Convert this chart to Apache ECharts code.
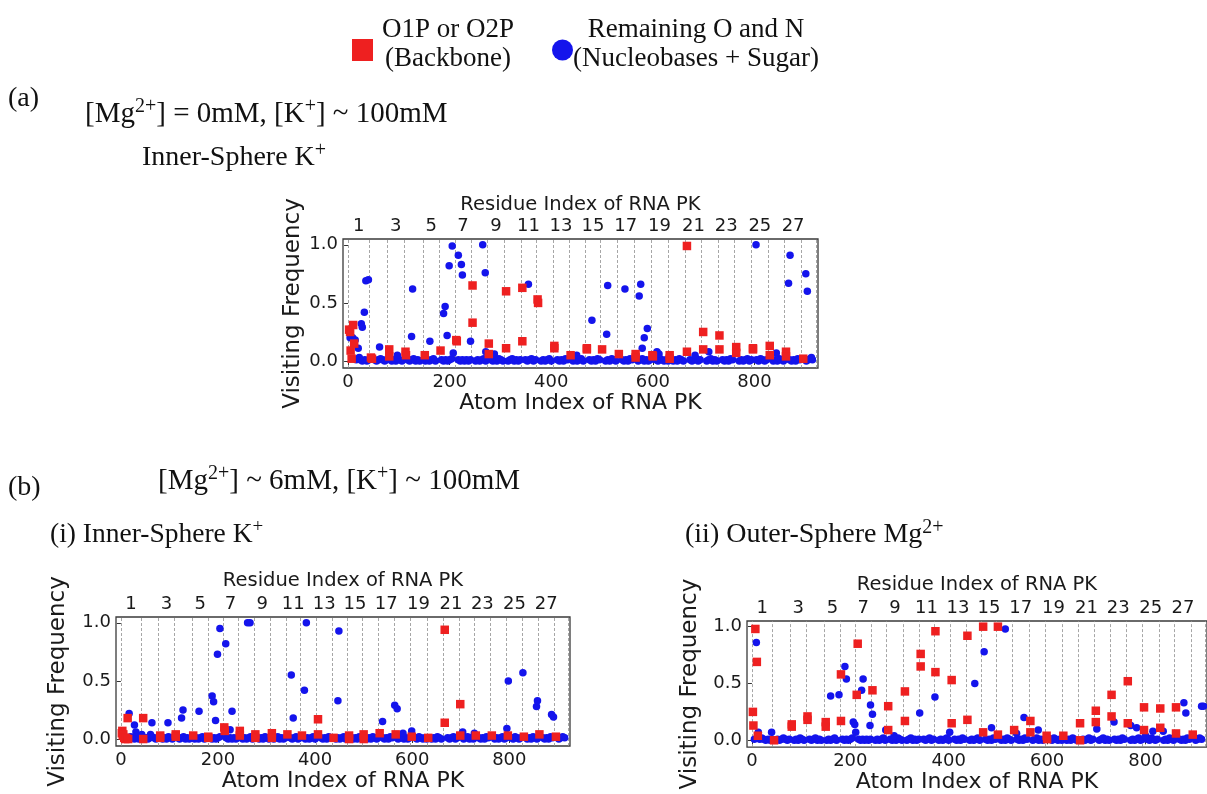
<!DOCTYPE html>
<html>
<head>
<meta charset="utf-8">
<title>Visiting frequency on RNA PK</title>
<script src="https://cdn.jsdelivr.net/npm/echarts@6/dist/echarts.min.js"></script>
<style>
  html, body { margin: 0; padding: 0; background: #fff; }
  #main { width: 1207px; height: 794px; }
</style>
</head>
<body>
<div id="main"></div>
<script>
// atom index where each residue starts (dashed lines), last residue ends at residueEnd
var residueStart = [0, 42, 78, 110, 148, 179, 210, 242, 274, 308, 340, 370, 403, 435,
  467, 497, 530, 563, 596, 630, 664, 696, 728, 761, 794, 827, 859, 893];
var residueEnd = 922;
var atomTicks = [0, 200, 400, 600, 800];
var freqTicks = [0, 0.5, 1.0];

// O/N atoms that are almost never visited (same in every panel)
var baseBlue = [
  [16, 0.01], [20, 0.02], [24, 0.01], [28, 0.0], [33, 0.01], [37, 0.0], [41, 0.01],
  [52, 0.01], [56, 0.0], [60, 0.01], [64, 0.02], [68, 0.01], [72, 0.0], [76, 0.01],
  [86, 0.0], [90, 0.01], [94, 0.0], [98, 0.02], [102, 0.01], [106, 0.0],
  [117, 0.01], [121, 0.0], [125, 0.01], [129, 0.02], [133, 0.0], [137, 0.01], [141, 0.0],
  [152, 0.0], [156, 0.01], [160, 0.0], [164, 0.01], [168, 0.02], [172, 0.0],
  [184, 0.01], [188, 0.0], [192, 0.01], [196, 0.0], [200, 0.01], [204, 0.02],
  [217, 0.01], [221, 0.0], [225, 0.01], [229, 0.0], [233, 0.01], [237, 0.0], [241, 0.01],
  [251, 0.0], [255, 0.01], [259, 0.0], [263, 0.01], [267, 0.02], [271, 0.0],
  [281, 0.01], [285, 0.0], [289, 0.01], [293, 0.0], [297, 0.02], [301, 0.01], [305, 0.0],
  [315, 0.0], [319, 0.01], [323, 0.02], [327, 0.0], [331, 0.01], [335, 0.0], [339, 0.01],
  [349, 0.01], [353, 0.0], [357, 0.01], [361, 0.02], [365, 0.0], [369, 0.01],
  [380, 0.0], [384, 0.01], [388, 0.0], [392, 0.01], [396, 0.02], [400, 0.0],
  [412, 0.01], [416, 0.0], [420, 0.01], [424, 0.0], [428, 0.02], [432, 0.01],
  [443, 0.0], [447, 0.01], [451, 0.0], [455, 0.01], [459, 0.02], [463, 0.0],
  [475, 0.01], [479, 0.0], [483, 0.01], [487, 0.0], [491, 0.02], [495, 0.01],
  [507, 0.0], [511, 0.01], [515, 0.0], [519, 0.02], [523, 0.01], [527, 0.0],
  [539, 0.01], [543, 0.0], [547, 0.01], [551, 0.0], [555, 0.02], [559, 0.01],
  [571, 0.0], [575, 0.01], [579, 0.02], [583, 0.0], [587, 0.01], [591, 0.0], [595, 0.01],
  [606, 0.01], [610, 0.0], [614, 0.02], [618, 0.01], [622, 0.0], [626, 0.01], [630, 0.0],
  [640, 0.0], [644, 0.01], [648, 0.0], [652, 0.02], [656, 0.01], [660, 0.0],
  [673, 0.01], [677, 0.0], [681, 0.01], [685, 0.02], [689, 0.0], [693, 0.01],
  [706, 0.0], [710, 0.01], [714, 0.02], [718, 0.0], [722, 0.01], [726, 0.0],
  [737, 0.01], [741, 0.0], [745, 0.01], [749, 0.0], [753, 0.02], [757, 0.01],
  [770, 0.0], [774, 0.01], [778, 0.0], [782, 0.01], [786, 0.02], [790, 0.0], [794, 0.01],
  [804, 0.01], [808, 0.0], [812, 0.02], [816, 0.01], [820, 0.0], [824, 0.01],
  [837, 0.0], [841, 0.01], [845, 0.0], [849, 0.02], [853, 0.01], [857, 0.0],
  [869, 0.01], [873, 0.0], [877, 0.01], [881, 0.0], [885, 0.02], [889, 0.01],
  [902, 0.0], [906, 0.01], [910, 0.02], [914, 0.01]
];

// (a) Mg 0mM, inner-sphere K+
var blueA = [
  [4, 0.20], [9, 0.20], [14, 0.18], [20, 0.11], [22, 0.03], [26, 0.32], [28, 0.29],
  [32, 0.42], [35, 0.69], [40, 0.70], [62, 0.12], [97, 0.05], [125, 0.21], [127, 0.62],
  [161, 0.17], [188, 0.41], [191, 0.47], [195, 0.22], [199, 0.82], [205, 0.99], [207, 0.07],
  [217, 0.91], [223, 0.83], [225, 0.74], [241, 0.17], [265, 1.00], [270, 0.76], [271, 0.08],
  [288, 0.06], [355, 0.66], [450, 0.05], [480, 0.35], [509, 0.23], [511, 0.65], [545, 0.62],
  [573, 0.56], [576, 0.66], [579, 0.11], [583, 0.20], [589, 0.28], [608, 0.08], [612, 0.06],
  [683, 0.05], [710, 0.08], [803, 1.00], [843, 0.07], [867, 0.67], [870, 0.91], [901, 0.75],
  [904, 0.60], [912, 0.03]
];
var redA = [
  [2, 0.27], [4, 0.25], [5, 0.09], [7, 0.02], [10, 0.31], [12, 0.15],
  [45, 0.03], [47, 0.02], [81, 0.10], [81, 0.04], [113, 0.08], [114, 0.05], [151, 0.05],
  [182, 0.09], [213, 0.18], [214, 0.17], [245, 0.65], [245, 0.33], [277, 0.15], [277, 0.06],
  [311, 0.60], [311, 0.11], [343, 0.63], [343, 0.17], [373, 0.53], [374, 0.50],
  [406, 0.13], [406, 0.11], [438, 0.05], [470, 0.11], [470, 0.10], [500, 0.10],
  [533, 0.06], [566, 0.06], [566, 0.03], [599, 0.05], [600, 0.04], [633, 0.05], [633, 0.02],
  [667, 0.99], [667, 0.08], [699, 0.25], [699, 0.10], [731, 0.22], [731, 0.10],
  [764, 0.12], [764, 0.07], [797, 0.11], [797, 0.10], [830, 0.13], [830, 0.05],
  [862, 0.08], [862, 0.04], [896, 0.02]
];

// (b)(i) Mg 6mM, inner-sphere K+
var blueBi = [
  [17, 0.22], [28, 0.12], [31, 0.06], [43, 0.04], [61, 0.04], [64, 0.14], [97, 0.14],
  [125, 0.18], [128, 0.25], [161, 0.24], [188, 0.37], [191, 0.32], [195, 0.16], [199, 0.73],
  [204, 0.95], [216, 0.82], [225, 0.08], [229, 0.24], [261, 1.00], [266, 1.00], [351, 0.55],
  [355, 0.18], [378, 0.42], [382, 1.00], [447, 0.33], [449, 0.93], [539, 0.15], [564, 0.29],
  [569, 0.26], [581, 0.05], [599, 0.07], [704, 0.06], [728, 0.05], [795, 0.09], [798, 0.50],
  [828, 0.57], [856, 0.28], [858, 0.33], [887, 0.21], [891, 0.19]
];
var redBi = [
  [2, 0.05], [3, 0.07], [4, 0.03], [5, 0.04], [7, 0.01], [9, 0.0], [11, 0.01], [14, 0.18],
  [15, 0.0], [46, 0.18], [46, 0.0], [81, 0.03], [81, 0.01], [113, 0.04], [113, 0.02],
  [149, 0.03], [180, 0.02], [180, 0.01], [213, 0.10], [214, 0.07], [245, 0.07], [245, 0.03],
  [277, 0.04], [277, 0.01], [311, 0.05], [311, 0.01], [343, 0.04], [373, 0.03],
  [406, 0.17], [406, 0.04], [438, 0.01], [470, 0.03], [470, 0.0], [500, 0.04], [500, 0.0],
  [533, 0.05], [566, 0.04], [599, 0.02], [633, 0.01], [667, 0.94], [667, 0.14],
  [699, 0.30], [699, 0.03], [731, 0.03], [764, 0.03], [797, 0.03], [830, 0.02],
  [862, 0.04], [896, 0.02]
];

// (b)(ii) Mg 6mM, outer-sphere Mg2+
var blueBii = [
  [5, 0.01], [9, 0.86], [13, 0.07], [40, 0.07], [160, 0.39], [177, 0.40], [189, 0.65],
  [192, 0.54], [206, 0.16], [209, 0.14], [211, 0.07], [223, 0.44], [226, 0.54], [240, 0.13],
  [241, 0.31], [245, 0.23], [272, 0.09], [289, 0.04], [341, 0.24], [372, 0.38], [402, 0.07],
  [453, 0.50], [472, 0.78], [487, 0.11], [515, 0.98], [538, 0.06], [553, 0.20], [582, 0.09],
  [701, 0.10], [736, 0.16], [770, 0.13], [782, 0.11], [800, 0.04], [815, 0.08], [836, 0.08],
  [878, 0.33], [882, 0.24], [914, 0.30], [918, 0.30]
];
var redBii = [
  [2, 0.25], [3, 0.13], [7, 0.98], [10, 0.69], [12, 0.04], [45, 0.0], [81, 0.14], [81, 0.12],
  [113, 0.21], [113, 0.18], [150, 0.16], [150, 0.12], [181, 0.58], [181, 0.17],
  [213, 0.40], [215, 0.85], [245, 0.44], [277, 0.30], [277, 0.09], [311, 0.43], [311, 0.17],
  [343, 0.76], [343, 0.65], [373, 0.96], [373, 0.60], [406, 0.53], [406, 0.15],
  [438, 0.92], [438, 0.18], [470, 1.00], [470, 0.07], [500, 1.00], [500, 0.05], [533, 0.09],
  [566, 0.17], [566, 0.07], [599, 0.04], [600, 0.01], [633, 0.04], [667, 0.15], [667, 0.0],
  [699, 0.26], [699, 0.16], [731, 0.40], [731, 0.21], [764, 0.52], [764, 0.15],
  [797, 0.29], [797, 0.09], [830, 0.28], [830, 0.11], [862, 0.29], [862, 0.06], [896, 0.05]
];

var RED = '#ee2020';
var BLUE = '#1414ec';
var INK = '#1a1a1a';
var SANS = 'DejaVu Sans';
var SERIF = 'Liberation Serif';

// residue labels: odd residues at the centre of their span
var residueLines = residueStart.concat([residueEnd]);
var residueCenters = [];
var residueNames = {};
for (var i = 0; i < residueStart.length; i++) {
  if (i % 2 === 0) {
    var c = (residueLines[i] + residueLines[i + 1]) / 2;
    residueCenters.push(c);
    residueNames[c] = String(i + 1);
  }
}

var panels = [
  { blue: blueA, red: redA, left: 343, top: 239, width: 475, height: 129, yGap: 38, xGap: 24, tGap: 24 },
  { blue: blueBi, red: redBi, left: 116, top: 617, width: 454, height: 129, yGap: 46, xGap: 23, tGap: 26 },
  { blue: blueBii, red: redBii, left: 747, top: 621, width: 465, height: 127, yGap: 45, xGap: 23, tGap: 26 }
];

var grid = [], xAxis = [], yAxis = [], series = [];
panels.forEach(function (p, k) {
  grid.push({
    left: p.left, top: p.top, width: p.width, height: p.height,
    show: true, borderColor: '#3a3a3a', borderWidth: 1.3
  });
  xAxis.push({
    gridIndex: k, type: 'value', min: -10, max: 925, position: 'bottom',
    name: 'Atom Index of RNA PK', nameLocation: 'middle', nameGap: p.xGap,
    nameTextStyle: { fontFamily: SANS, fontSize: 22, color: INK },
    axisLine: { show: false }, splitLine: { show: false },
    axisTick: { customValues: atomTicks, length: 4, lineStyle: { color: '#333' } },
    axisLabel: { customValues: atomTicks, fontFamily: SANS, fontSize: 18, color: INK, margin: 5 }
  });
  xAxis.push({
    gridIndex: k, type: 'value', min: -10, max: 925, position: 'top',
    name: 'Residue Index of RNA PK', nameLocation: 'middle', nameGap: p.tGap,
    nameTextStyle: { fontFamily: SANS, fontSize: 19.5, color: INK },
    axisLine: { show: false }, splitLine: { show: false }, axisTick: { show: false },
    axisLabel: {
      customValues: residueCenters, fontFamily: SANS, fontSize: 18, color: INK, margin: 4,
      formatter: function (v) { return residueNames[v]; }
    }
  });
  yAxis.push({
    gridIndex: k, type: 'value', min: -0.06, max: 1.05,
    name: 'Visiting Frequency', nameLocation: 'middle', nameGap: p.yGap,
    nameTextStyle: { fontFamily: SANS, fontSize: 23, color: INK },
    axisLine: { show: false }, splitLine: { show: false },
    axisTick: { show: true, customValues: freqTicks, length: 4, lineStyle: { color: '#333' } },
    axisLabel: {
      customValues: freqTicks, fontFamily: SANS, fontSize: 18, color: INK, margin: 5,
      formatter: function (v) { return v.toFixed(1); }
    }
  });
  series.push({
    name: 'Remaining O and N', type: 'scatter', xAxisIndex: 2 * k, yAxisIndex: k,
    data: baseBlue.concat(p.blue), symbol: 'circle', symbolSize: 7.5, z: 3,
    itemStyle: { color: BLUE, opacity: 1 },
    markLine: {
      silent: true, z: 1, symbol: ['none', 'none'], label: { show: false },
      lineStyle: { color: '#8f8f8f', type: [3, 2], width: 0.8 },
      data: residueLines.map(function (v) { return { xAxis: v }; })
    }
  });
  series.push({
    name: 'O1P or O2P', type: 'scatter', xAxisIndex: 2 * k, yAxisIndex: k,
    data: p.red, symbol: 'rect', symbolSize: 8.5, z: 4,
    itemStyle: { color: RED, opacity: 1 }
  });
});

function note(text, left, top, size) {
  return {
    type: 'text', left: left, top: top,
    style: {
      text: text, fill: '#111', fontFamily: SERIF, fontSize: size, lineHeight: size + 6,
      rich: { s: { fontFamily: SERIF, fontSize: Math.round(size * 0.7), verticalAlign: 'top', fill: '#111' } }
    }
  };
}

var chart = echarts.init(document.getElementById('main'));
chart.setOption({
  backgroundColor: '#fff',
  animation: false,
  grid: grid,
  xAxis: xAxis,
  yAxis: yAxis,
  series: series,
  legend: {
    left: 352, top: 15, padding: 0, itemWidth: 21, itemHeight: 22, itemGap: 34,
    data: [{ name: 'O1P or O2P', icon: 'rect' }, { name: 'Remaining O and N', icon: 'circle' }],
    formatter: function (name) {
      // trailing short line pushes the two text lines above the marker, as in the figure
      return name === 'O1P or O2P'
        ? '{a|O1P or O2P}\n{a|(Backbone)}\n{e| }'
        : '{b|Remaining O and N}\n{b|(Nucleobases + Sugar)}\n{e| }';
    },
    textStyle: {
      fontFamily: SERIF, fontSize: 27, color: '#111', lineHeight: 29,
      rich: {
        a: { fontFamily: SERIF, fontSize: 27, lineHeight: 29, width: 140, align: 'center' },
        b: { fontFamily: SERIF, fontSize: 27, lineHeight: 29, width: 236, align: 'center' },
        e: { fontSize: 2, lineHeight: 12 }
      }
    }
  },
  graphic: [
    note('(a)', 8, 82, 28),
    note('[Mg{s|2+}] = 0mM, [K{s|+}] ~ 100mM', 85, 97, 29),
    note('Inner-Sphere K{s|+}', 142, 141, 28),
    note('(b)', 8, 471, 28),
    note('[Mg{s|2+}] ~ 6mM, [K{s|+}] ~ 100mM', 158, 464, 29),
    note('(i) Inner-Sphere K{s|+}', 50, 518, 27.5),
    note('(ii) Outer-Sphere Mg{s|2+}', 685, 518, 28)
  ]
});
</script>
</body>
</html>
